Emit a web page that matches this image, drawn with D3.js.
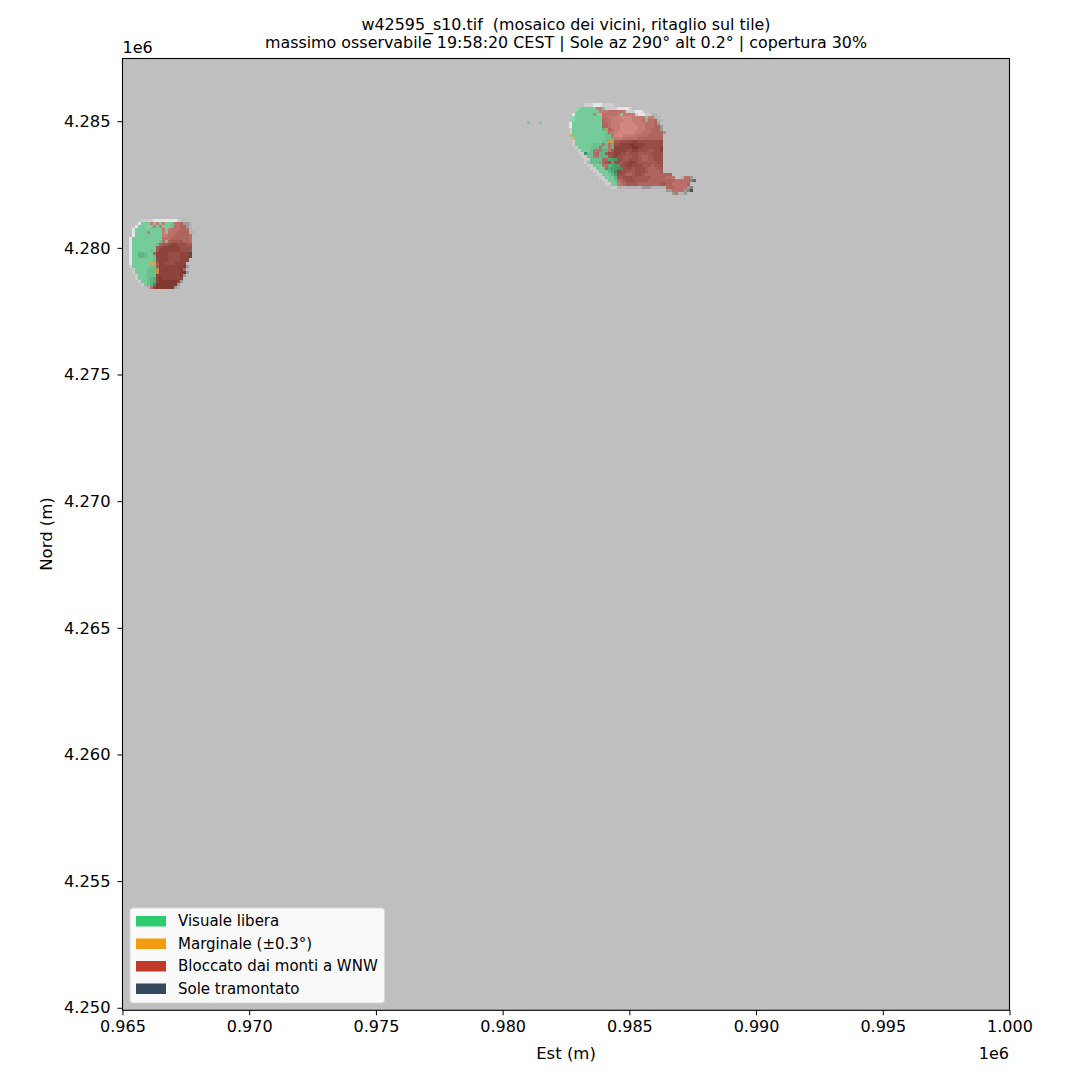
<!DOCTYPE html>
<html>
<head>
<meta charset="UTF-8">
<title>w42595_s10</title>
<script src="https://d3js.org/d3.v7.min.js"></script>
<style>
  body { margin: 0; background: #fff; }
  text { font-family: "DejaVu Sans", sans-serif; fill: #000; white-space: pre; }
</style>
</head>
<body>
<div id="chart"></div>
<script>
const titleLines = ["w42595_s10.tif  (mosaico dei vicini, ritaglio sul tile)",
  "massimo osservabile 19:58:20 CEST | Sole az 290° alt 0.2° | copertura 30%"];
const xTicks = [965000, 970000, 975000, 980000, 985000, 990000, 995000, 1000000];
const yTicks = [4250000, 4255000, 4260000, 4265000, 4270000, 4275000, 4280000, 4285000];
const legendNames = ["Visuale libera", "Marginale (±0.3°)", "Bloccato dai monti a WNW", "Sole tramontato"];
const legendColors = ["#2ecc71", "#f39c12", "#c0392b", "#34495e"];
const classKeys = ["g", "o", "r", "n"];
const cellSize = 120; // metres

// raster: g/o/r = class, . = nothing
const eastClass = [
  "",
  "...ggggggrrg",
  "..ggggggggrrrrrrrrr",
  "..ggggggrgorrrrrrgrrrr",
  ".ggggggggggrrrrrrrrrrrrrrgrr",
  ".ggggggggggrrrrrrrrrrrrrrgrrr",
  ".ggggggggggrrrrrrrrrrrrrrrrrr",
  ".ggggggggggrrrrrrrrrrrrrrrrrrr",
  ".gggggggggggorrrrrrrrrrrrrrrrr",
  ".ggggggggggggrrrrrrrrrrrrrrrrrr",
  "ogggggggggggggrrrrrrrrrrrrrrrrr",
  ".ogggggggggggggrrrrrrrrrrrrrrrr",
  "..gggggggggggoorrrrrrrrrrrrrrrr",
  "..gggggggggrgrgrrrrrrrrrrrrrrrr",
  "...gggggggrggrgrrrrrrrrrrrrrrrr",
  "....ggggrrrggrrrrrrrrrrrrrrrrrr",
  ".....gggrrggrrrrrrrrrrrrrrrrrrr",
  "......ggrrgggrrrrrrrrrrrrrrrrrr",
  ".......ggggrrgggrrrrrrrrrrrrrrr",
  ".......ggggrrrorrrrrrrrrrrrrrrr",
  "........gggrrggggrrrrrrrrrrrrrr",
  ".........gggrgggggrrrrrrrrrrrrr",
  "..........ggggggrrrrrrrrrrrrrrr",
  "...........gggggrrrrrrrrrrrrrrrrrr",
  "............ggggrrrrrrrrrrrrrrrrrrr...rr",
  ".............gggrrrrrrrrrrrrrrrrrrrrrrrr",
  "..............ggrrrrrrrrrrrrrrrrrrrrrrrr",
  "................................rrrrrrr",
  "..................................rrrr",
  "...................................r"
];
const eastShade = [
  ".....7778887777",
  "...877777777777788887",
  "..87777777777666667777887",
  ".8777777777666667777777887766",
  ".87777777776677778888777777766",
  ".877777777756677778887776666566",
  "877777777775567778888877766655",
  "8777777777755677788888877666555",
  "7777777777755567788888877665555",
  "77777777777766778888887766655555",
  "7777777777776668887777666655555",
  ".777777777776657776666655555555",
  ".777777777766554433332233333333",
  ".777777766666653322211222333333",
  "..77777666666652222221123333332",
  "...7777666655642222332233344332",
  "...7726665554332233433344443333",
  "....776666555432334443345544333",
  ".....77666655433334433345544333",
  ".....76666554333343322344444433",
  "......7777766543333223334445443",
  ".......777775433223334333455544",
  "........77777542233444333455554",
  ".........7777753334554334555555555",
  "..........777775443334444445555566...6665",
  "...........7777665433344445555555556666643",
  "............7777765444455555554455666665",
  "..............776666666655566666555666654",
  "................................556666542",
  "..................................56665"
];
const westClass = [
  "",
  "....gggrgrgrgggrrr",
  "...gggogrgrggggrrrr",
  "..gggggggggrgrrrrrrr",
  "..ggggrggggrgrrrrrrr",
  "..gggggggggrrrrrrrrrr",
  ".ggggggggggrrrrrrrrrr",
  ".ggggggggggrgrrrrrrrr",
  ".gggggggggrrrrrrrrrrr",
  ".ggggggggrrrrrrrrrrrr",
  ".ggggggggrrrrrrrrrrr",
  ".gggggggrrrrrrrrrrrr",
  ".ggggggggrrrrrrrrrrr",
  ".ggggggggrrrrrrrrrrr",
  ".ggggggoorrrrrrrrrr",
  ".ggggggggrrrrrrrrrr",
  "..gggggggorrrrrrrrr",
  "..gggggggorrrrrrrrr",
  "...ggggggrrrrrrrrr",
  "...ggggggrrrrrrrrr",
  "....gggggrrrrrrrr",
  ".....ggggrrrrrrr",
  ".......rrrrrrrr"
];
const westShade = [
  "....7777888888887",
  "...877777777776665556",
  "..8777777777776665556",
  ".87777777777776665566",
  ".877777777777666555566",
  ".87777777777766555556",
  "877777777776665555556",
  "877777777766654444556",
  "877777777654432233344",
  "877777777432222223333",
  "877777767422222223333",
  "877556775222233332222",
  "877556776222233332222",
  "87777777632223333222",
  "8777777664223332222",
  "77777776642222222215",
  ".777776664222222215",
  ".7777766642222222115",
  "..77776662222222215",
  "..7777654212222222",
  "...777654211111125",
  "....7765211111115",
  "......66211111156"
];
const islets = ["g...g"];
const isletShade = ["7...7"];

// [raster classes, hillshade, west edge, north edge]
const layers = [
  [eastClass, eastShade, 982600, 4285700],
  [westClass, westShade, 965240, 4281140],
  [islets, isletShade, 980960, 4285020]
];

const width = 1080, height = 1080;
const plot = { left: 122.5, right: 1009.5, top: 58.5, bottom: 1010.3 };

const x = d3.scaleLinear().domain([965000, 1000000]).range([plot.left, plot.right]);
const y = d3.scaleLinear().domain([4249900, 4287475]).range([plot.bottom, plot.top]);
const shadeGrey = d3.scaleLinear().domain([0, 9]).range([30, 255]);
const classColor = d3.scaleOrdinal().domain(classKeys).range(legendColors);

const svg = d3.select("#chart").append("svg")
  .attr("width", width)
  .attr("height", height);

svg.append("rect")
  .attr("x", plot.left).attr("y", plot.top)
  .attr("width", plot.right - plot.left).attr("height", plot.bottom - plot.top)
  .attr("fill", "#bfbfbf");

function cellsOf(rows, west, north) {
  let out = [];
  rows.forEach((row, r) => {
    row.split("").forEach((ch, c) => {
      if (ch != ".") out.push({ ch: ch, x0: west + c * cellSize, y0: north - r * cellSize });
    });
  });
  return out;
}

const rasterG = svg.append("g").attr("shape-rendering", "crispEdges");

layers.forEach(layer => {
  rasterG.append("g").selectAll("rect")
    .data(cellsOf(layer[1], layer[2], layer[3]))
    .join("rect")
    .attr("x", d => x(d.x0))
    .attr("y", d => y(d.y0))
    .attr("width", d => x(d.x0 + cellSize) - x(d.x0))
    .attr("height", d => y(d.y0 - cellSize) - y(d.y0))
    .attr("fill", d => { let g = Math.round(shadeGrey(+d.ch)); return `rgb(${g},${g},${g})`; });

  rasterG.append("g").selectAll("rect")
    .data(cellsOf(layer[0], layer[2], layer[3]))
    .join("rect")
    .attr("x", d => x(d.x0))
    .attr("y", d => y(d.y0))
    .attr("width", d => x(d.x0 + cellSize) - x(d.x0))
    .attr("height", d => y(d.y0 - cellSize) - y(d.y0))
    .attr("fill", d => classColor(d.ch))
    .attr("fill-opacity", 0.55);
});

// axes
const xAxis = d3.axisBottom(x).tickValues(xTicks).tickSize(5).tickPadding(5)
  .tickFormat(d => d3.format(".3f")(d / 1e6));
const yAxis = d3.axisLeft(y).tickValues(yTicks).tickSize(5).tickPadding(7)
  .tickFormat(d => d3.format(".3f")(d / 1e6));

svg.append("g").attr("transform", `translate(0,${plot.bottom})`).call(xAxis)
  .call(g => g.select(".domain").remove())
  .selectAll("text").attr("font-size", 16);
svg.append("g").attr("transform", `translate(${plot.left},0)`).call(yAxis)
  .call(g => g.select(".domain").remove())
  .selectAll("text").attr("font-size", 16.3);

svg.append("rect")
  .attr("x", plot.left).attr("y", plot.top)
  .attr("width", plot.right - plot.left).attr("height", plot.bottom - plot.top)
  .attr("fill", "none").attr("stroke", "#000").attr("stroke-width", 1.1);

svg.selectAll(".title").data(titleLines).join("text")
  .attr("class", "title")
  .attr("x", (plot.left + plot.right) / 2)
  .attr("y", (d, i) => 30 + i * 17.5)
  .attr("text-anchor", "middle")
  .attr("font-size", 15.9)
  .text(d => d);

svg.append("text").attr("x", 566).attr("y", 1059).attr("text-anchor", "middle")
  .attr("font-size", 16.5).text("Est (m)");
svg.append("text").attr("transform", "translate(52,534) rotate(-90)").attr("text-anchor", "middle")
  .attr("font-size", 16.5).text("Nord (m)");
svg.append("text").attr("x", 1009).attr("y", 1059).attr("text-anchor", "end")
  .attr("font-size", 16).text("1e6");
svg.append("text").attr("x", 122.5).attr("y", 53).attr("text-anchor", "start")
  .attr("font-size", 16).text("1e6");

// legend
const legend = svg.append("g");
legend.append("rect")
  .attr("x", 130).attr("y", 908).attr("width", 254.5).attr("height", 95)
  .attr("rx", 3).attr("fill", "#fff").attr("fill-opacity", 0.9)
  .attr("stroke", "#d6d6d6").attr("stroke-width", 1);

const legendRow = d3.scaleLinear().domain([0, 3]).range([921, 988.5]);
legend.selectAll(".swatch").data(legendNames).join("rect")
  .attr("class", "swatch")
  .attr("x", 136).attr("y", (d, i) => legendRow(i) - 5)
  .attr("width", 30).attr("height", 10.5)
  .attr("fill", (d, i) => legendColors[i]);
legend.selectAll(".label").data(legendNames).join("text")
  .attr("class", "label")
  .attr("x", 178).attr("y", (d, i) => legendRow(i) + 5)
  .attr("font-size", 15)
  .text(d => d);
</script>
</body>
</html>
